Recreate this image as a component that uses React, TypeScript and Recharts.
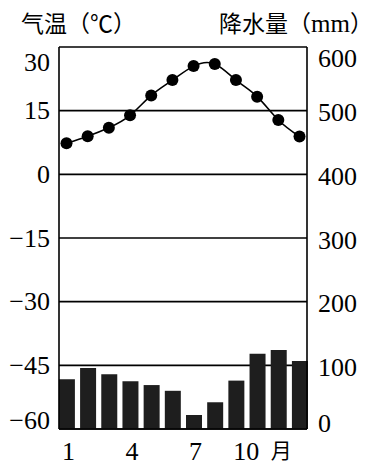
import { ComposedChart, Bar, Line, XAxis, YAxis, CartesianGrid } from 'recharts';

const months = [1, 2, 3, 4, 5, 6, 7, 8, 9, 10, 11, 12];
const temperature = [7.3, 9.0, 11.0, 13.9, 18.6, 22.2, 25.5, 26.0, 22.2, 18.3, 12.8, 8.9];
const precipitation = [78, 96, 86, 75, 69, 60, 22, 42, 76, 118, 124, 107];

const tempTicks = [-60, -45, -30, -15, 0, 15, 30];
const rainTicks = [0, 100, 200, 300, 400, 500, 600];
const monthTicks = [1, 4, 7, 10, 11];

const data = months.map((m, i) => ({
    month: m,
    temp: temperature[i],
    rain: precipitation[i],
}));

const NUM_FONT = '"Liberation Serif", "DejaVu Serif", serif';
const CJK_FONT = '"Noto Sans CJK SC", sans-serif';

// nudge the end labels inward like the printed figure
function LeftTick({ x, y, payload }: any) {
    const v = payload.value;
    const dy = v === 30 ? 15 : v === -60 ? -9 : 0;
    return (
        <text x={x} y={y + dy} textAnchor="end" dominantBaseline="central"
            fontFamily={NUM_FONT} fontSize={26} fill="#000">
            {String(v).replace('-', '\u2212')}
        </text>
    );
}

function RightTick({ x, y, payload }: any) {
    const v = payload.value;
    const dy = v === 600 ? 11 : v === 0 ? -6 : 2;
    return (
        <text x={x} y={y + dy} textAnchor="start" dominantBaseline="central"
            fontFamily={NUM_FONT} fontSize={26} fill="#000">
            {v}
        </text>
    );
}

function MonthTick({ x, y, payload }: any) {
    const v = payload.value;
    const isUnit = v === 11;
    const dx = isUnit ? 3 : v === 10 ? -11 : 2;
    return (
        <text x={x + dx} y={y + (isUnit ? 20 : 22)} textAnchor="middle" dominantBaseline="central"
            fontFamily={isUnit ? CJK_FONT : NUM_FONT} fontSize={isUnit ? 21 : 26} fill="#000">
            {isUnit ? '月' : v}
        </text>
    );
}

export default function App() {
    return (
        <div style={{ position: 'absolute', left: 0, top: 0, width: 386, height: 464, background: '#fff' }}>
            <div style={{ position: 'absolute', left: 21, top: 11, fontFamily: CJK_FONT, fontSize: 23, lineHeight: 1, whiteSpace: 'nowrap' }}>
                气温（℃）
            </div>
            <div style={{ position: 'absolute', left: 219, top: 11, fontFamily: CJK_FONT, fontSize: 23, lineHeight: 1, whiteSpace: 'nowrap' }}>
                降水量（<span style={{ fontFamily: NUM_FONT, fontSize: 25 }}>mm</span>）
            </div>
            <ComposedChart
                width={386}
                height={464}
                data={data}
                margin={{ top: 47, right: 0, bottom: 0, left: 0 }}
            >
                <CartesianGrid yAxisId="temp" vertical={false} stroke="#000" strokeWidth={1.6} />
                <XAxis
                    dataKey="month"
                    type="number"
                    domain={[0.646, 12.354]}
                    ticks={monthTicks}
                    height={35}
                    tickSize={0}
                    tickMargin={0}
                    axisLine={{ stroke: '#000', strokeWidth: 1.6 }}
                    tickLine={false}
                    tick={<MonthTick />}
                    interval={0}
                />
                <YAxis
                    yAxisId="temp"
                    orientation="left"
                    domain={[-60, 30]}
                    ticks={tempTicks}
                    width={59}
                    tickSize={0}
                    tickMargin={9}
                    axisLine={{ stroke: '#000', strokeWidth: 1.6 }}
                    tickLine={false}
                    tick={<LeftTick />}
                    interval={0}
                />
                <YAxis
                    yAxisId="rain"
                    orientation="right"
                    domain={[0, 600]}
                    ticks={rainTicks}
                    width={79}
                    tickSize={0}
                    tickMargin={11}
                    axisLine={{ stroke: '#000', strokeWidth: 1.6 }}
                    tickLine={false}
                    tick={<RightTick />}
                    interval={0}
                />
                <Bar yAxisId="rain" dataKey="rain" barSize={16} fill="#1e1e1e" isAnimationActive={false} />
                <Line
                    yAxisId="temp"
                    dataKey="temp"
                    type="natural"
                    stroke="#000"
                    strokeWidth={1.6}
                    dot={{ r: 6, fill: '#000', stroke: 'none' }}
                    isAnimationActive={false}
                />
            </ComposedChart>
        </div>
    );
}
